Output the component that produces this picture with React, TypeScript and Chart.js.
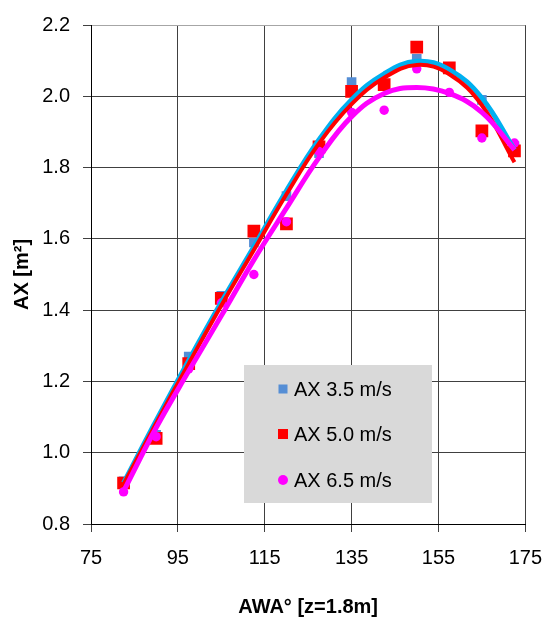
import React, { useEffect, useRef } from "react";
import { Chart, registerables } from "chart.js";

Chart.register(...registerables);

// AWA° [z=1.8m]
const awa = [82.5, 90, 97.5, 105, 112.5, 120, 127.5, 135, 142.5, 150, 157.5, 165, 172.5];

// measured AX [m²]
const ax35 = [0.92, 1.05, 1.27, 1.44, 1.59, 1.72, 1.84, 2.04, 2.035, 2.105, 2.08, 1.99, 1.86];
const ax50 = [0.915, 1.04, 1.25, 1.433, 1.622, 1.642, 1.858, 2.014, 2.033, 2.138, 2.08, 1.903, 1.847];
const ax65 = [0.89, 1.045, 1.235, 1.42, 1.5, 1.648, 1.845, 1.955, 1.961, 2.077, 2.011, 1.883, 1.869];

// trend lines
const trend35 = [0.915, 1.09, 1.259, 1.422, 1.578, 1.735, 1.878, 1.99, 2.063, 2.098, 2.075, 1.995, 1.85];
const trend50 = [0.912, 1.083, 1.25, 1.413, 1.569, 1.725, 1.868, 1.978, 2.052, 2.088, 2.062, 1.975, 1.815];
const trend65 = [0.892, 1.07, 1.229, 1.384, 1.541, 1.686, 1.828, 1.943, 2.008, 2.025, 2.008, 1.955, 1.85];

const seriesLabels = ["AX 3.5 m/s", "AX 5.0 m/s", "AX 6.5 m/s"];
const xTicks = [75, 95, 115, 135, 155, 175];
const yTicks = [0.8, 1.0, 1.2, 1.4, 1.6, 1.8, 2.0, 2.2];

const FONT = "'Liberation Sans', Arial, sans-serif";

const toPts = (ys: number[]) => ys.map((y, i) => ({ x: awa[i], y }));

const legendPlugin = {
  id: "boxLegend",
  afterDatasetsDraw(chart: any) {
    const ctx = chart.ctx;
    ctx.save();
    ctx.fillStyle = "#D9D9D9";
    ctx.fillRect(244, 365, 188, 138);
    const items = [
      { color: "#558ED5", style: "rect", size: 9 },
      { color: "#FF0000", style: "rect", size: 10 },
      { color: "#FF00FF", style: "circle", size: 10 },
    ];
    const rows = [389, 434, 480];
    items.forEach((it, i) => {
      const cy = rows[i];
      const cx = 283;
      ctx.fillStyle = it.color;
      if (it.style === "rect") {
        ctx.fillRect(cx - it.size / 2, cy - it.size / 2, it.size, it.size);
      } else {
        ctx.beginPath();
        ctx.arc(cx, cy, it.size / 2, 0, Math.PI * 2);
        ctx.fill();
      }
      ctx.fillStyle = "#000";
      ctx.font = `20px ${FONT}`;
      ctx.textBaseline = "middle";
      ctx.textAlign = "left";
      ctx.fillText(seriesLabels[i], 294, cy + 1);
    });
    ctx.restore();
  },
};

export default function App() {
  const ref = useRef<HTMLCanvasElement | null>(null);

  useEffect(() => {
    if (!ref.current) return;
    const chart = new Chart(ref.current, {
      type: "scatter",
      data: {
        datasets: [
          {
            label: "trend 6.5",
            data: toPts(trend65),
            showLine: true,
            borderColor: "#FF00FF",
            borderWidth: 5,
            pointRadius: 0,
            tension: 0.4,
            order: 1,
          },
          {
            label: "trend 5.0",
            data: toPts(trend50),
            showLine: true,
            borderColor: "#FF0000",
            borderWidth: 4,
            pointRadius: 0,
            tension: 0.4,
            order: 2,
          },
          {
            label: "trend 3.5",
            data: toPts(trend35),
            showLine: true,
            borderColor: "#00B0F0",
            borderWidth: 5,
            pointRadius: 0,
            tension: 0.4,
            order: 3,
          },
          {
            label: seriesLabels[2],
            data: toPts(ax65),
            pointStyle: "circle",
            pointRadius: 4.7,
            backgroundColor: "#FF00FF",
            borderColor: "#FF00FF",
            borderWidth: 0,
            order: 4,
          },
          {
            label: seriesLabels[1],
            data: toPts(ax50),
            pointStyle: "rect",
            pointRadius: 9,
            backgroundColor: "#FF0000",
            borderColor: "#FF0000",
            borderWidth: 0,
            order: 5,
          },
          {
            label: seriesLabels[0],
            data: toPts(ax35),
            pointStyle: "rect",
            pointRadius: 6.8,
            backgroundColor: "#558ED5",
            borderColor: "#558ED5",
            borderWidth: 0,
            order: 6,
          },
        ],
      },
      options: {
        responsive: false,
        animation: false,
        devicePixelRatio: 1,
        layout: { padding: { top: 20, right: 19, bottom: 0, left: 0 } },
        plugins: {
          legend: { display: false },
          tooltip: { enabled: false },
        },
        scales: {
          x: {
            type: "linear",
            min: 75,
            max: 175,
            afterBuildTicks: (s: any) => {
              s.ticks = xTicks.map((v) => ({ value: v }));
            },
            afterFit: (s: any) => {
              s.height = 97;
            },
            grid: {
              color: "#404040",
              lineWidth: 1,
              tickLength: 8,
              tickColor: "#404040",
            },
            border: { color: "#000", width: 1 },
            ticks: {
              color: "#000",
              font: { family: FONT, size: 20 },
              padding: 14,
              maxRotation: 0,
            },
            title: {
              display: true,
              text: "AWA° [z=1.8m]",
              color: "#000",
              font: { family: FONT, size: 20, weight: "bold" },
              padding: { top: 0, bottom: 2 },
            },
          },
          y: {
            type: "linear",
            min: 0.8,
            max: 2.2,
            afterBuildTicks: (s: any) => {
              s.ticks = yTicks.map((v) => ({ value: v }));
            },
            afterFit: (s: any) => {
              s.width = 91;
            },
            grid: {
              color: (c: any) => (c.tick && c.tick.value === 2.2 ? "#A6A6A6" : "#404040"),
              lineWidth: 1,
              tickLength: 8,
              tickColor: "#404040",
            },
            border: { color: "#000", width: 1 },
            ticks: {
              color: "#000",
              font: { family: FONT, size: 20 },
              padding: 13,
              callback: (v: any) => Number(v).toFixed(1),
            },
            title: {
              display: true,
              text: "AX [m²]",
              color: "#000",
              font: { family: FONT, size: 20, weight: "bold" },
              padding: { top: 10, bottom: 0 },
            },
          },
        },
      },
      plugins: [legendPlugin],
    });
    return () => chart.destroy();
  }, []);

  return (
    <div style={{ position: "fixed", left: 0, top: 0, width: 556, height: 621, background: "#fff" }}>
      <canvas ref={ref} width={556} height={621} style={{ width: 556, height: 621, display: "block" }} />
    </div>
  );
}
